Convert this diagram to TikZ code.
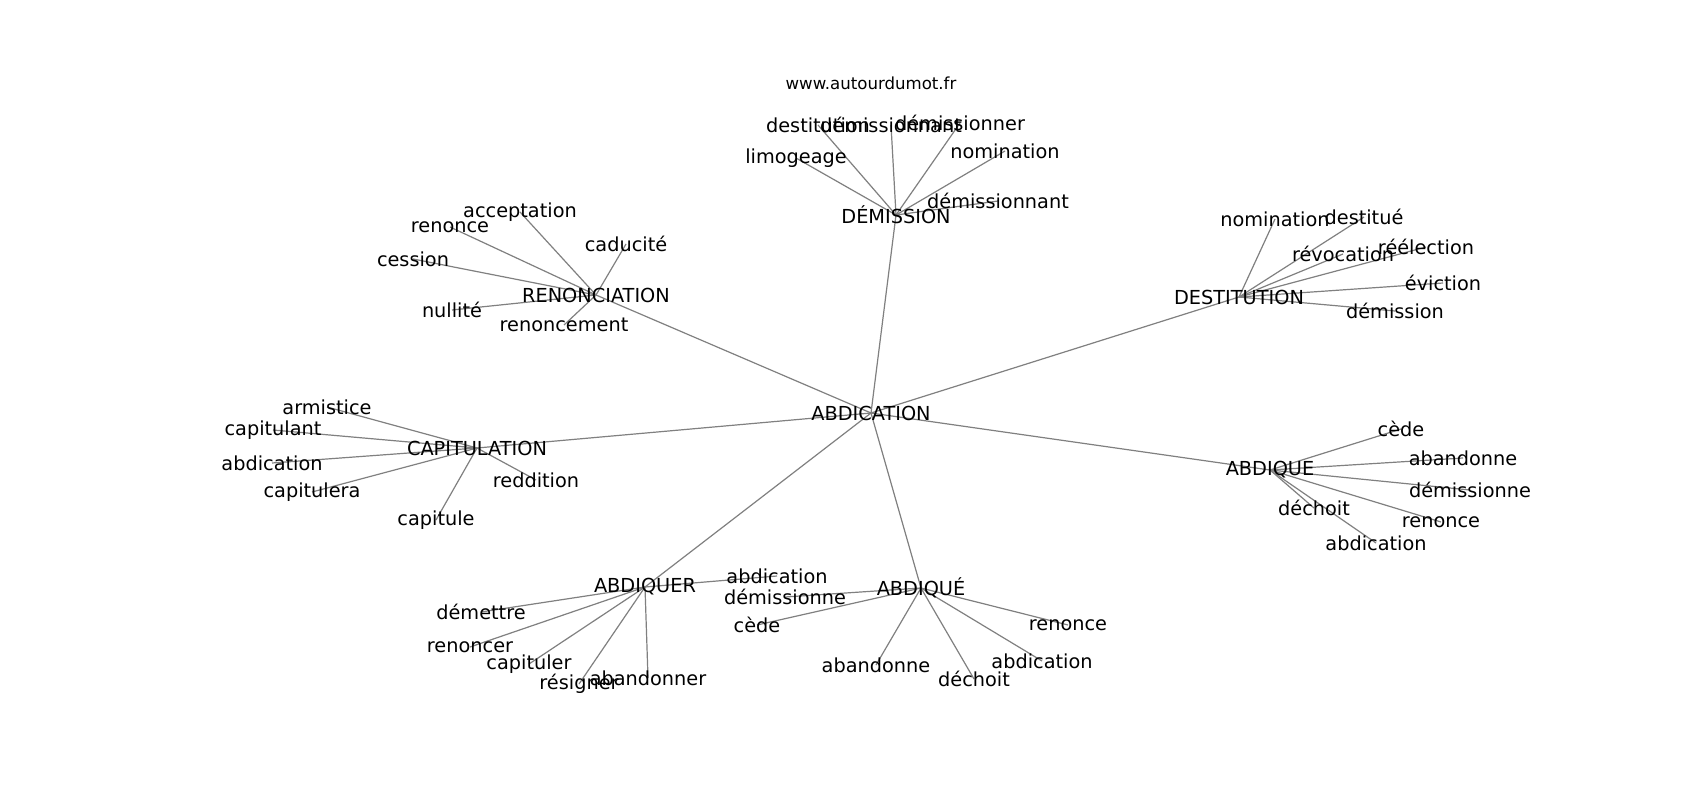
\documentclass[tikz,border=0pt]{standalone}
\usepackage{fontspec}
\setmainfont{DejaVu Sans}
\pgfdeclarelayer{background}
\pgfsetlayers{background,main}
\tikzset{
  lbl/.style={inner sep=0pt, outer sep=0pt, text=black, font=\fontsize{19.3bp}{23bp}\selectfont},
  ttl/.style={inner sep=0pt, outer sep=0pt, text=black, font=\fontsize{16.6bp}{20bp}\selectfont},
  conn/.style={draw=gray, line width=1.2bp}
}
\begin{document}
\begin{tikzpicture}[x=1bp,y=-1bp]
\useasboundingbox (0,0) rectangle (1700,800);
\node[ttl] (title) at (871,83) {www.autourdumot.fr};
% centre
\node[lbl] (c) at (871,413) {ABDICATION};
% DEMISSION
\node[lbl] (d) at (896,215) {DÉMISSION};
\node[lbl] (d1) at (818,125) {destitution};
\node[lbl] (d2) at (891,125) {démissionnant};
\node[lbl] (d3) at (960,123) {démissionner};
\node[lbl] (d4) at (796,158) {limogeage};
\node[lbl] (d5) at (1005,151) {nomination};
\node[lbl] (d6) at (998,201) {démissionnant};
% RENONCIATION
\node[lbl] (r) at (596,295) {RENONCIATION};
\node[lbl] (r1) at (520,212) {acceptation};
\node[lbl] (r2) at (450,227) {renonce};
\node[lbl] (r3) at (413,259) {cession};
\node[lbl] (r4) at (626,244) {caducité};
\node[lbl] (r5) at (452,310) {nullité};
\node[lbl] (r6) at (564,325) {renoncement};
% DESTITUTION
\node[lbl] (t) at (1239,297) {DESTITUTION};
\node[lbl] (t1) at (1275,219) {nomination};
\node[lbl] (t2) at (1364,217) {destitué};
\node[lbl] (t3) at (1343,254) {révocation};
\node[lbl] (t4) at (1426,247) {réélection};
\node[lbl] (t5) at (1443,283) {éviction};
\node[lbl] (t6) at (1395,311) {démission};
% CAPITULATION
\node[lbl] (p) at (477,448) {CAPITULATION};
\node[lbl] (p1) at (327,407) {armistice};
\node[lbl] (p2) at (273,430) {capitulant};
\node[lbl] (p3) at (272,463) {abdication};
\node[lbl] (p4) at (312,492) {capitulera};
\node[lbl] (p5) at (436,520) {capitule};
\node[lbl] (p6) at (536,480) {reddition};
% ABDIQUE
\node[lbl] (q) at (1270,470) {ABDIQUE};
\node[lbl] (q1) at (1401,429) {cède};
\node[lbl] (q2) at (1463,458) {abandonne};
\node[lbl] (q3) at (1470,490) {démissionne};
\node[lbl] (q4) at (1441,522) {renonce};
\node[lbl] (q5) at (1314,508) {déchoit};
\node[lbl] (q6) at (1376,543) {abdication};
% ABDIQUER
\node[lbl] (u) at (645,587) {ABDIQUER};
\node[lbl] (u1) at (777,576) {abdication};
\node[lbl] (u2) at (481,612) {démettre};
\node[lbl] (u3) at (470,647) {renoncer};
\node[lbl] (u4) at (529,664) {capituler};
\node[lbl] (u5) at (579,684) {résigner};
\node[lbl] (u6) at (648,678) {abandonner};
% ABDIQUE accent
\node[lbl] (v) at (921,588) {ABDIQUÉ};
\node[lbl] (v1) at (785,597) {démissionne};
\node[lbl] (v2) at (757,625) {cède};
\node[lbl] (v3) at (876,665) {abandonne};
\node[lbl] (v4) at (974,679) {déchoit};
\node[lbl] (v5) at (1042,661) {abdication};
\node[lbl] (v6) at (1068,625) {renonce};
\begin{pgfonlayer}{background}
\fill[white] (0,0) rectangle (1700,800);
\foreach \a/\b in {c/d,c/r,c/t,c/p,c/q,c/u,c/v,
  d/d1,d/d2,d/d3,d/d4,d/d5,d/d6,
  r/r1,r/r2,r/r3,r/r4,r/r5,r/r6,
  t/t1,t/t2,t/t3,t/t4,t/t5,t/t6,
  p/p1,p/p2,p/p3,p/p4,p/p5,p/p6,
  q/q1,q/q2,q/q3,q/q4,q/q5,q/q6,
  u/u1,u/u2,u/u3,u/u4,u/u5,u/u6,
  v/v1,v/v2,v/v3,v/v4,v/v5,v/v6}
  \draw[conn] (\a.center) -- (\b.center);
\end{pgfonlayer}
\end{tikzpicture}
\end{document}
